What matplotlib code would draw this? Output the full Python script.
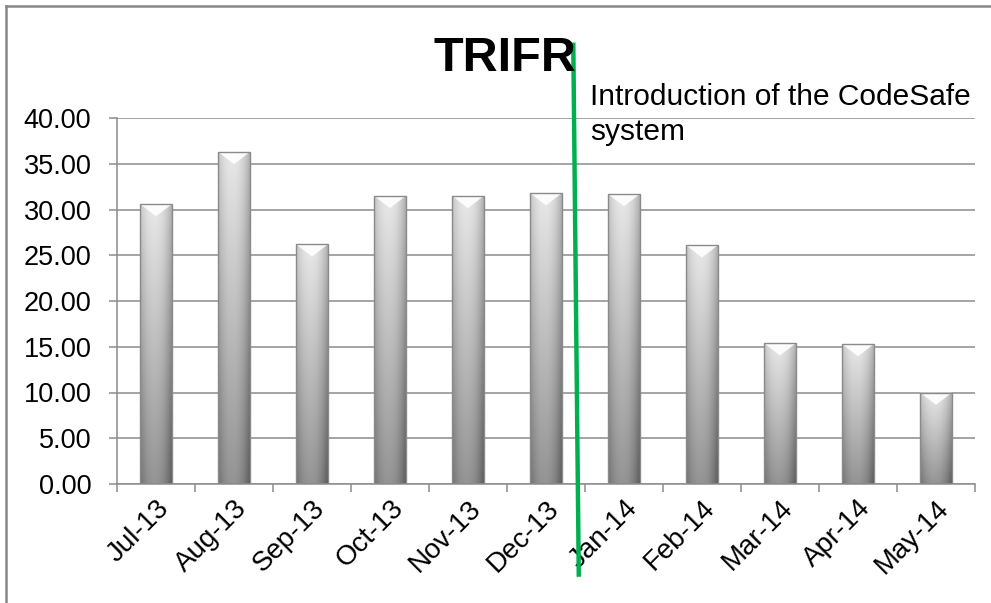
import numpy as np
import matplotlib
matplotlib.use('Agg')
import matplotlib.pyplot as plt
from matplotlib.patches import Polygon, Rectangle
from matplotlib.lines import Line2D

plt.rcParams['font.family'] = ['Liberation Sans', 'DejaVu Sans']

months = ['Jul-13', 'Aug-13', 'Sep-13', 'Oct-13', 'Nov-13', 'Dec-13',
          'Jan-14', 'Feb-14', 'Mar-14', 'Apr-14', 'May-14']
trifr = [30.6, 36.3, 26.2, 31.5, 31.5, 31.8, 31.7, 26.1, 15.4, 15.3, 10.0]
yticks = [0, 5, 10, 15, 20, 25, 30, 35, 40]

W, H = 991, 603
fig = plt.figure(figsize=(W / 100, H / 100), dpi=100)
ax = fig.add_axes([117 / W, 1 - 484 / H, (975 - 117) / W, (484 - 118) / H])

ax.set_xlim(-0.5, len(months) - 0.5)
ax.set_ylim(0, 40)

fs = 19.5
grid_col = '#8c8c8c'
ax.set_yticks(yticks)
ax.set_yticklabels(['%.2f' % v for v in yticks], fontsize=fs)
ax.yaxis.grid(True, color=grid_col, linewidth=1.1)
ax.set_axisbelow(True)
for s in ['top', 'right']:
    ax.spines[s].set_visible(False)
for s in ['left', 'bottom']:
    ax.spines[s].set_color(grid_col)
    ax.spines[s].set_linewidth(1.1)
ax.tick_params(axis='y', length=5.5, color=grid_col, width=1.1, pad=13)

# labels under the bars, tick marks between categories
ax.set_xticks(range(len(months)))
ax.set_xticklabels(months, fontsize=20, rotation=45, ha='right', va='top',
                   rotation_mode='anchor')
ax.tick_params(axis='x', which='major', length=0, pad=8)
ax.set_xticks(np.arange(-0.5, len(months), 1.0), minor=True)
ax.tick_params(axis='x', which='minor', length=6, color=grid_col, width=1.1)

# shaded cylinder-like bars
bw = 0.41
u = np.linspace(0, 1, 60)
v = np.linspace(0, 1, 200)[:, None]
prof = np.clip(1 - (np.abs(u - 0.45) / 0.55) ** 2.2, 0, 1)[None, :]
centre = 0.58 + 0.33 * v
edge = centre - 0.22
shade = edge + (centre - edge) * prof

cap = 1.35
for i, val in enumerate(trifr):
    x0 = i - bw / 2
    rect = Rectangle((x0, 0), bw, val, facecolor='none', edgecolor='#8a8a8a',
                     linewidth=1.0, zorder=3)
    ax.add_patch(rect)
    im = ax.imshow(shade, cmap='gray', vmin=0, vmax=1, origin='lower',
                   extent=(x0, x0 + bw, 0, val), aspect='auto', zorder=2,
                   interpolation='bilinear')
    im.set_clip_path(rect)
    ax.add_patch(Polygon([(x0, val), (x0 + bw, val), (i, val - cap)],
                         closed=True, facecolor='white', edgecolor='none',
                         alpha=0.9, zorder=2.5))

# marker for the CodeSafe introduction
ax.add_line(Line2D([5.35, 5.42], [48.0, -9.9], color='#00b050', linewidth=3.2,
                   clip_on=False, zorder=5))

fig.text(590 / W, 1 - 83 / H, 'Introduction of the CodeSafe\nsystem',
         fontsize=21.5, ha='left', va='top', linespacing=1.3)

fig.text(505 / W, 1 - 36 / H, 'TRIFR', fontsize=35, fontweight='bold',
         ha='center', va='top')

# frame on the top and left edges
fig.add_artist(Line2D([6 / W, 6 / W], [0, 1 - 6 / H], transform=fig.transFigure,
                      color='#888888', linewidth=1.8))
fig.add_artist(Line2D([6 / W, 1], [1 - 6 / H, 1 - 6 / H], transform=fig.transFigure,
                      color='#888888', linewidth=1.8))

fig.savefig('out.png', dpi=100)
